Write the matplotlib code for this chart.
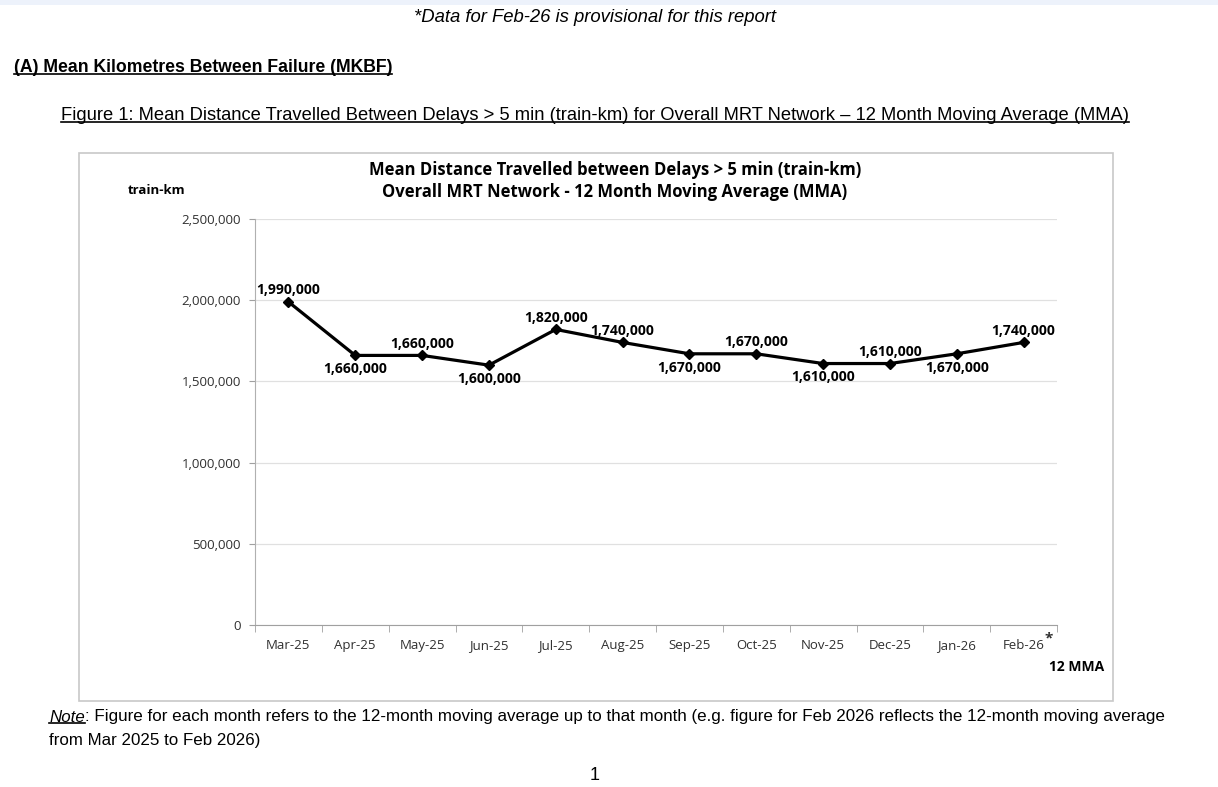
import matplotlib.pyplot as plt
from matplotlib.patches import Rectangle
from matplotlib.lines import Line2D
from matplotlib.ticker import FuncFormatter

months = ["Mar-25", "Apr-25", "May-25", "Jun-25", "Jul-25", "Aug-25",
          "Sep-25", "Oct-25", "Nov-25", "Dec-25", "Jan-26", "Feb-26"]
mkbf = [1990000, 1660000, 1660000, 1600000, 1820000, 1740000,
        1670000, 1670000, 1610000, 1610000, 1670000, 1740000]
label_pos = ["above", "below", "above", "below", "above", "above",
             "below", "above", "below", "above", "below", "above"]
yticks = [0, 500000, 1000000, 1500000, 2000000, 2500000]

W, H = 1218, 787
doc_font = ["Liberation Sans", "DejaVu Sans"]
chart_font = ["Open Sans", "DejaVu Sans"]

fig = plt.figure(figsize=(W / 100, H / 100), dpi=100)
fig.patch.set_facecolor("white")

def fx(px):
    return px / W

def fy(py):
    return 1 - py / H

# light strip at the very top of the page
fig.patches.append(Rectangle((0, fy(5)), 1, 5 / H, transform=fig.transFigure,
                             facecolor="#edf2fb", edgecolor="none", zorder=-2))

# chart frame
fig.patches.append(Rectangle((fx(79), fy(701)), fx(1113 - 79), (701 - 153) / H,
                             transform=fig.transFigure, facecolor="none",
                             edgecolor="#c8c8c8", linewidth=1.2, zorder=-1))

ax = fig.add_axes([fx(255), fy(625), fx(1057 - 255), (625 - 219) / H])
ax.patch.set_alpha(0)
x = list(range(len(months)))
ax.plot(x, mkbf, color="black", linewidth=2.3, marker="D", markersize=5.5,
        zorder=3)

for i, (v, pos) in enumerate(zip(mkbf, label_pos)):
    txt = f"{v:,}"
    if pos == "above":
        ax.annotate(txt, (i, v), xytext=(0, 3.5), textcoords="offset points",
                    ha="center", va="bottom", fontsize=10, fontweight="bold",
                    family=chart_font)
    else:
        ax.annotate(txt, (i, v), xytext=(0, -5), textcoords="offset points",
                    ha="center", va="top", fontsize=10, fontweight="bold",
                    family=chart_font)

ax.set_xlim(-0.5, len(months) - 0.5)
ax.set_ylim(0, 2500000)
ax.set_yticks(yticks)
ax.yaxis.set_major_formatter(FuncFormatter(lambda v, p: f"{int(v):,}"))
ax.grid(axis="y", color="#e0e0e0", linewidth=0.9)
ax.set_axisbelow(True)

ax.set_xticks(x)
ax.set_xticklabels(months)
ax.set_xticks([i - 0.5 for i in range(len(months) + 1)], minor=True)
ax.tick_params(axis="x", which="major", length=0, pad=10, labelsize=9.5)
ax.tick_params(axis="x", which="minor", length=5, color="#a0a0a0")
ax.tick_params(axis="y", length=4, color="#a0a0a0", labelsize=9.5, pad=6)
for lab in ax.get_xticklabels() + ax.get_yticklabels():
    lab.set_family(chart_font)
    lab.set_color("#303030")

for s in ["top", "right"]:
    ax.spines[s].set_visible(False)
ax.spines["left"].set_color("#b0b0b0")
ax.spines["bottom"].set_color("#a0a0a0")

# chart titles
fig.text(fx(615), fy(170), "Mean Distance Travelled between Delays > 5 min (train-km)",
         ha="center", va="center", fontsize=12, fontweight="bold", family=chart_font)
fig.text(fx(615), fy(192), "Overall MRT Network - 12 Month Moving Average (MMA)",
         ha="center", va="center", fontsize=12, fontweight="bold", family=chart_font)
fig.text(fx(157), fy(190), "train-km", ha="center", va="center", fontsize=9.5,
         fontweight="bold", family=chart_font)
fig.text(fx(1104), fy(667), "12 MMA", ha="right", va="center", fontsize=10,
         fontweight="bold", family=chart_font)

# document text around the chart
t0 = fig.text(fx(595), fy(18), "*Data for Feb-26 is provisional for this report",
              ha="center", va="center", fontsize=13, style="italic", family=doc_font)
t1 = fig.text(fx(14), fy(67), "(A) Mean Kilometres Between Failure (MKBF)",
              ha="left", va="center", fontsize=13, fontweight="bold", family=doc_font)
t2 = fig.text(fx(61), fy(115),
              "Figure 1: Mean Distance Travelled Between Delays > 5 min (train-km) "
              "for Overall MRT Network \u2013 12 Month Moving Average (MMA)",
              ha="left", va="center", fontsize=13, family=doc_font)
t3 = fig.text(fx(49), fy(717), "Note", ha="left", va="center", fontsize=13,
              style="italic", family=doc_font)
t4 = fig.text(fx(49), fy(741), "from Mar 2025 to Feb 2026)", ha="left", va="center",
              fontsize=13, family=doc_font)
fig.text(fx(595), fy(775), "1", ha="center", va="center", fontsize=13,
         family=doc_font)

fig.canvas.draw()
renderer = fig.canvas.get_renderer()
inv = fig.transFigure.inverted()

# asterisk next to the provisional month
last = ax.get_xticklabels()[-1].get_window_extent(renderer)
sx, sy = inv.transform((last.x1, last.y1))
fig.text(sx, sy, "*", ha="left", va="center", fontsize=11, fontweight="bold",
         family=chart_font, color="#303030")

# scale document text to the widths seen on the page (narrow body font)
for t, width in [(t0, 363), (t1, 377), (t2, 1069), (t4, 210)]:
    bb = t.get_window_extent(renderer)
    t.set_fontsize(t.get_fontsize() * width / bb.width)
t3.set_fontsize(t4.get_fontsize())
fig.canvas.draw()

bb = t3.get_window_extent(renderer)
x_end = inv.transform((bb.x1, bb.y0))[0]
t5 = fig.text(x_end, fy(717), ": Figure for each month refers to the 12-month moving average "
              "up to that month (e.g. figure for Feb 2026 reflects the 12-month moving average",
              ha="left", va="center", fontsize=t4.get_fontsize(), family=doc_font)
fig.canvas.draw()
bb5 = t5.get_window_extent(renderer)
t5.set_fontsize(t5.get_fontsize() * (1166 - bb5.x0) / bb5.width)
fig.canvas.draw()

for t in [t1, t2, t3]:
    bb = t.get_window_extent(renderer)
    (x0, y0), (x1, _) = inv.transform([(bb.x0, bb.y0), (bb.x1, bb.y0)])
    y_line = y0 + 1.5 / H
    fig.lines.append(Line2D([x0, x1], [y_line, y_line], transform=fig.transFigure,
                            color="black", linewidth=1.2))

fig.savefig("out.png", dpi=100)
